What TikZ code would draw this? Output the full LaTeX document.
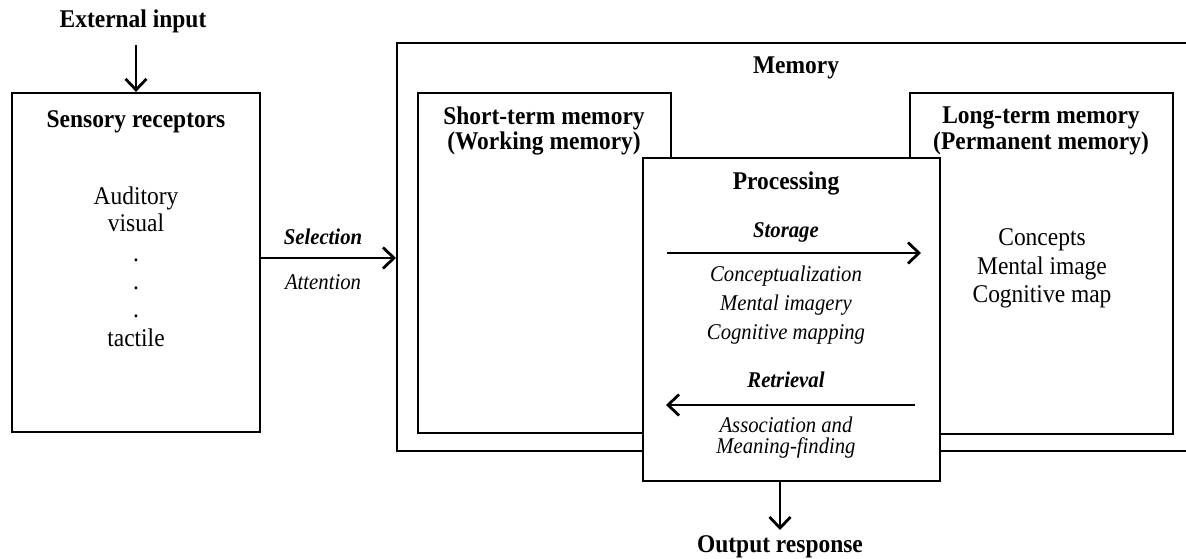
\documentclass[tikz,border=0pt]{standalone}
\usepackage{fontspec}
\setmainfont{Liberation Serif}[FakeStretch=0.92]
\usetikzlibrary{arrows.meta}
\begin{document}
\begin{tikzpicture}[x=1pt,y=-1pt,
  box/.style={draw,line width=2.2pt,fill=white},
  arr/.style={line width=2.8pt,-{Straight Barb[length=11pt,width=21pt,line width=2.8pt]}},
  lbl/.style={inner sep=0pt,anchor=center,font=\fontsize{25.5}{27}\selectfont},
  blbl/.style={lbl,font=\fontsize{25.5}{27}\selectfont\bfseries},
  ilbl/.style={lbl,font=\fontsize{22.5}{24}\selectfont\itshape},
  bilbl/.style={lbl,font=\fontsize{22.5}{24}\selectfont\bfseries\itshape}]
\useasboundingbox (0,0) rectangle (1186,559);
% boxes
\draw[line width=2.2pt] (1190,43) -- (397,43) -- (397,451) -- (1190,451);
\node[box,minimum width=248pt,minimum height=339pt,inner sep=0pt] (sens) at (136,262.5) {};
\node[box,minimum width=253pt,minimum height=340pt,inner sep=0pt] (stm) at (544.5,263) {};
\node[box,minimum width=263pt,minimum height=341pt,inner sep=0pt] (ltm) at (1041.5,263.5) {};
\node[box,minimum width=297pt,minimum height=323pt,inner sep=0pt] (proc) at (791.5,319.5) {};
% texts
\node[blbl] (ext) at (133,21) {External input};
\node[blbl] (sensT) at (136,122) {Sensory receptors};
\node[lbl] (aud) at (136,198) {Auditory};
\node[lbl] (vis) at (136,223) {visual};
\node[lbl] (d1) at (136,260) {.};
\node[lbl] (d2) at (136,288) {.};
\node[lbl] (d3) at (136,316) {.};
\node[lbl] (tac) at (136,338) {tactile};
\node[bilbl] (sel) at (323,237) {Selection};
\node[ilbl] (att) at (323,282) {Attention};
\node[blbl] (mem) at (796,68) {Memory};
\node[blbl] (stm1) at (544,118) {Short-term memory};
\node[blbl] (stm2) at (544,143) {(Working memory)};
\node[blbl] (ltm1) at (1041,118) {Long-term memory};
\node[blbl] (ltm2) at (1041,143) {(Permanent memory)};
\node[lbl] (c1) at (1042,240) {Concepts};
\node[lbl] (c2) at (1042,268) {Mental image};
\node[lbl] (c3) at (1042,297) {Cognitive map};
\node[blbl] (procT) at (786,183) {Processing};
\node[bilbl] (sto) at (786,232) {Storage};
\node[ilbl] (p1) at (786,276) {Conceptualization};
\node[ilbl] (p2) at (786,305) {Mental imagery};
\node[ilbl] (p3) at (786,334) {Cognitive mapping};
\node[bilbl] (ret) at (786,380) {Retrieval};
\node[ilbl] (p4) at (786,425) {Association and};
\node[ilbl] (p5) at (786,448) {Meaning-finding};
\node[blbl] (out) at (780,547) {Output response};
% connectors
\coordinate (extB) at (136,45);
\coordinate (memIn) at (396,258);
\coordinate (stoA) at (667,253);
\coordinate (stoB) at (921,253);
\coordinate (retA) at (915,405);
\coordinate (retB) at (666,405);
\coordinate (outT) at (780,530);
\draw[arr] (extB) -- (sens.north -| extB);
\draw[arr] (sens.east |- memIn) -- (memIn);
\draw[arr] (stoA) -- (stoB);
\draw[arr] (retA) -- (retB);
\draw[arr] (proc.south -| outT) -- (outT);
\end{tikzpicture}
\end{document}
